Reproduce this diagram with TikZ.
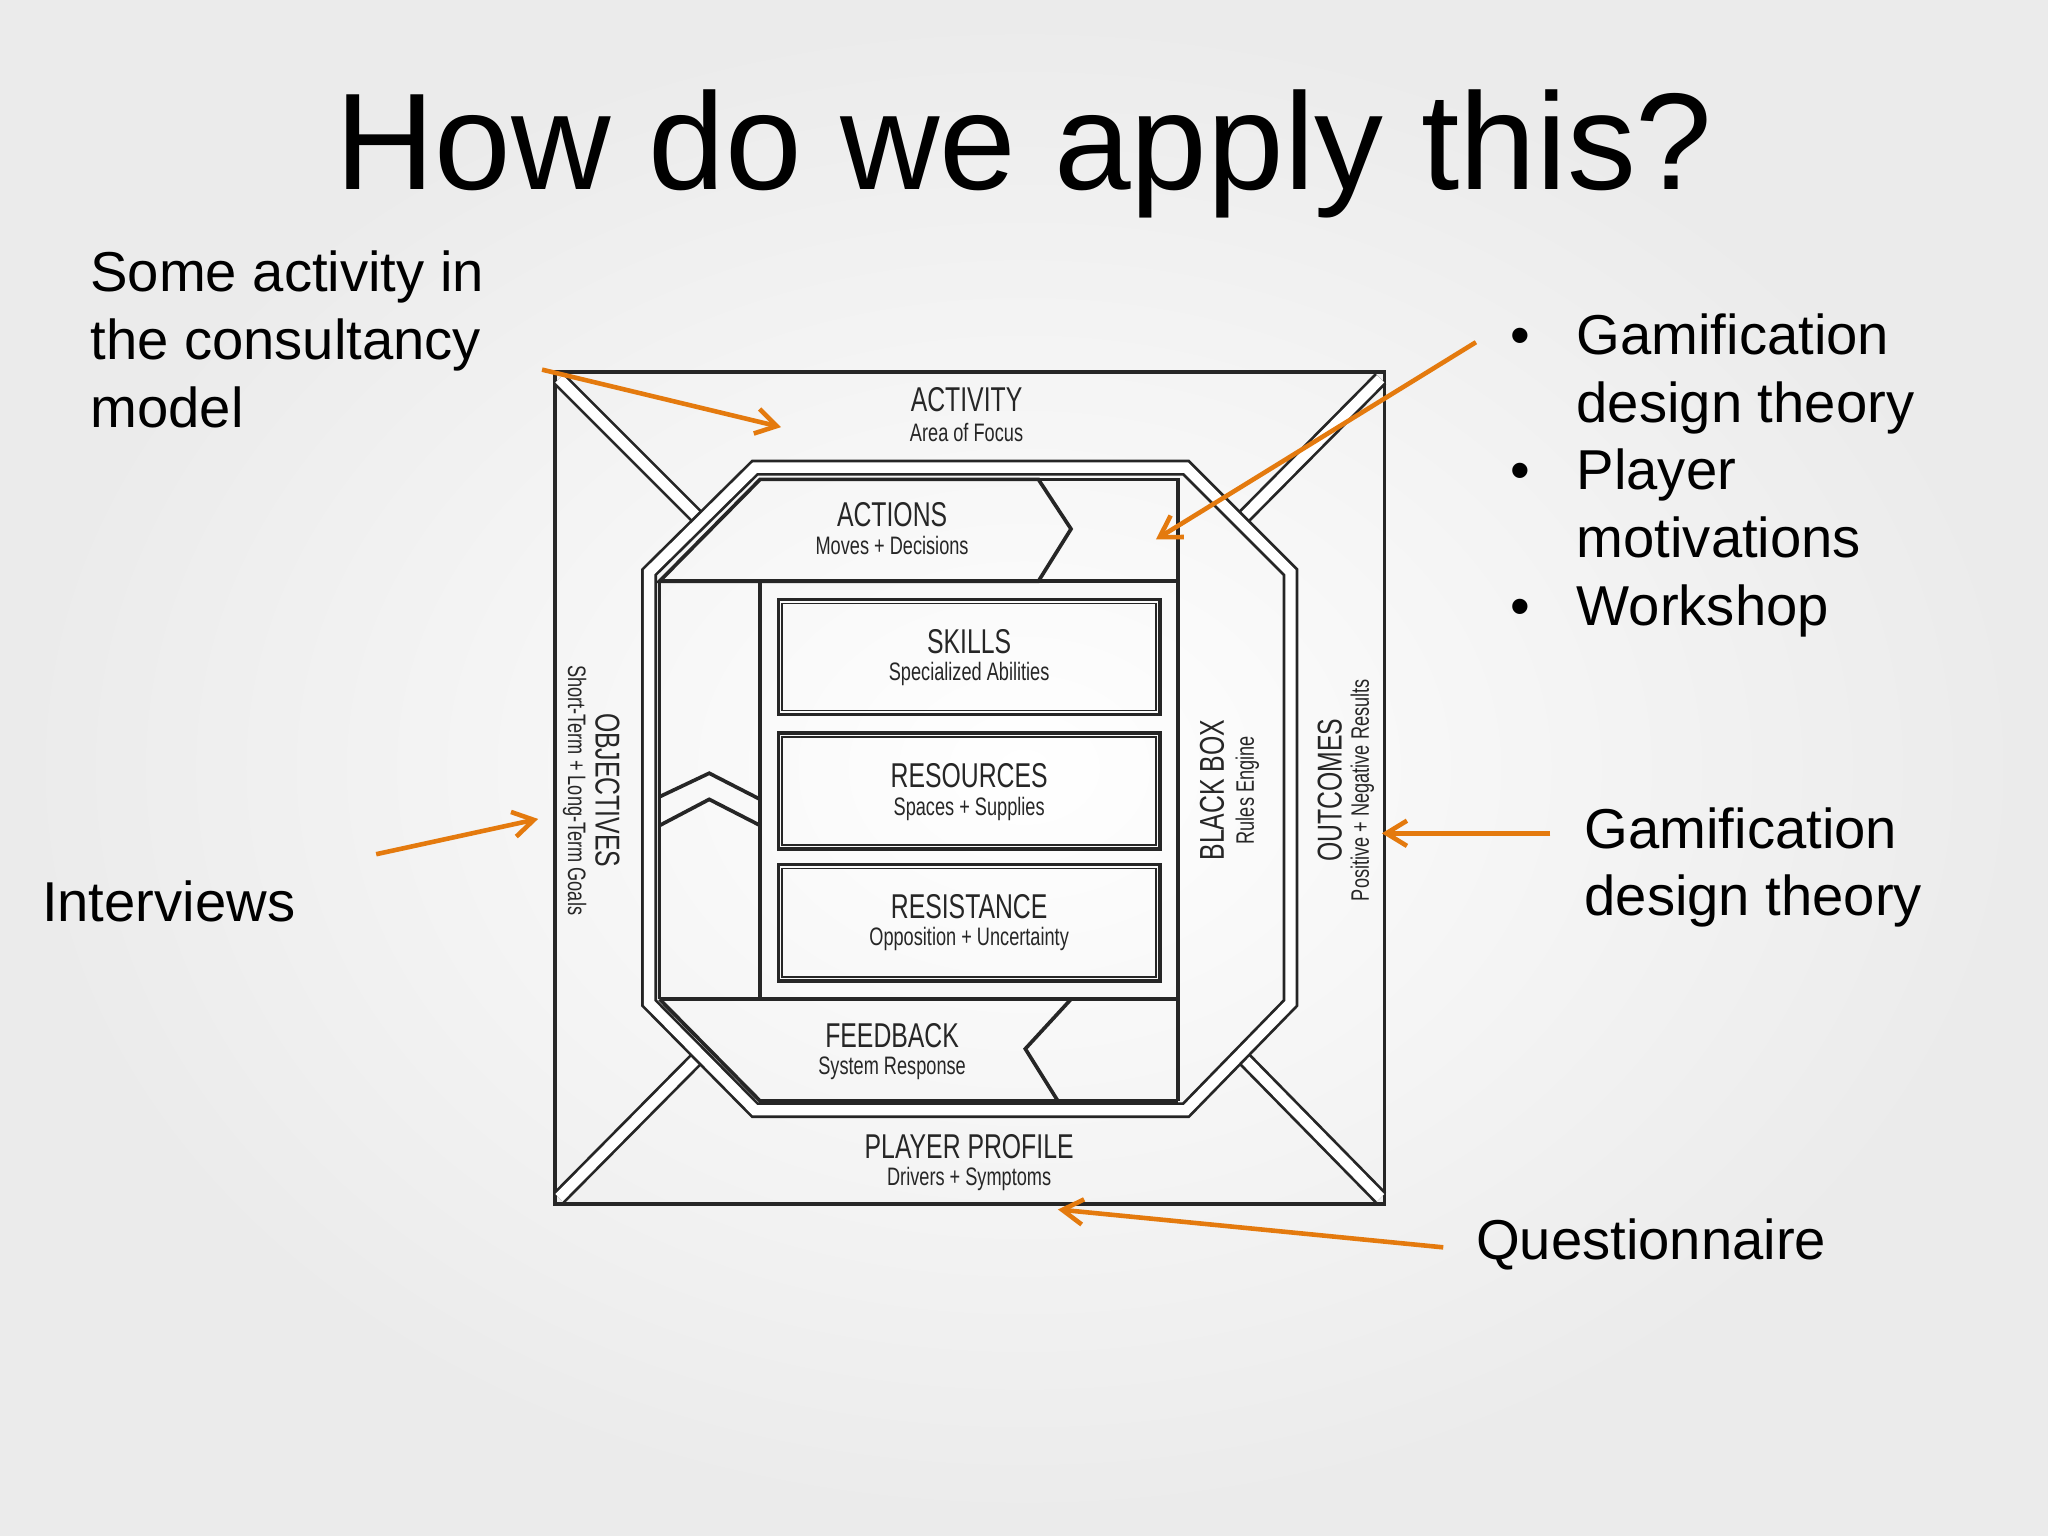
\documentclass[tikz,border=0pt]{standalone}
\usepackage{fontspec}
\setmainfont{Liberation Sans}
\usetikzlibrary{arrows.meta}
\definecolor{org}{HTML}{E47A0E}
\newcommand{\cond}[1]{\scalebox{0.72}[1]{#1}}
\begin{document}
\begin{tikzpicture}[x=0.02cm,y=-0.02cm,
  dbl/.style={draw=black!85,line width=1.2pt,double=white,double distance=4.5pt},
  ln/.style={draw=black!85,line width=1.6pt},
  hd/.style={font=\fontsize{15}{15}\selectfont,text=black!85},
  sb/.style={font=\fontsize{11}{11}\selectfont,text=black!85},
  oa/.style={draw=org,line width=2pt,-{Straight Barb[length=9pt,width=11pt]}},
  side/.style={font=\fontsize{24.5}{29.5}\selectfont,align=left,anchor=north west}]
\useasboundingbox (0,0) rectangle (1568,1176);
\shade[inner color=white,outer color=black!8] (0,0) rectangle (1568,1176);
\node[font=\fontsize{60}{60}\selectfont] (title) at (784,118) {How do we apply this?};
% outer square
\draw[ln] (425,285) rectangle (1060,922);
% diagonals
\draw[dbl] (428,290) -- (536,398);
\draw[dbl] (1057,290) -- (950,398);
\draw[dbl] (428,917) -- (536,808);
\draw[dbl] (1057,917) -- (950,808);
% octagon
\draw[dbl] (578,358) -- (908,358) -- (988,438) -- (988,768) -- (908,850) -- (578,850) -- (497,768) -- (497,438) -- cycle;
% actions
\draw[ln] (505,445) -- (582,367) -- (795,367) -- (820,405) -- (795,445) -- cycle;
\draw[ln] (795,367) -- (902,367) -- (902,445) -- (795,445);
\draw[ln] (902,367) -- (902,843);
\draw[ln] (505,445) -- (902,445);
% left column
\draw[ln] (582,445) -- (582,765);
\draw[ln] (505,610) -- (543,592) -- (582,612);
\draw[ln] (505,632) -- (543,612) -- (582,632);
\draw[ln] (505,445) -- (505,765);
% boxes
\foreach \yt/\yb in {459/547,561/650,662/751}{
  \draw[ln] (596,\yt) rectangle (888,\yb);
  \draw[black!85,line width=0.8pt] (599,\yt+3) rectangle (885,\yb-3);}
\draw[ln] (505,765) -- (902,765);
% feedback
\draw[ln] (505,765) -- (582,843) -- (810,843) -- (785,803) -- (820,765);
\draw[ln] (810,843) -- (902,843);
% labels
\node[hd] (act) at (740,306) {\cond{ACTIVITY}};
\node[sb] (acts) at (740,331) {\cond{Area of Focus}};
\node[hd] (ac) at (683,394) {\cond{ACTIONS}};
\node[sb] (acs) at (683,418) {\cond{Moves + Decisions}};
\node[hd] (sk) at (742,491) {\cond{SKILLS}};
\node[sb] (sks) at (742,516) {\cond{Specialized Abilities}};
\node[hd] (rs) at (742,594) {\cond{RESOURCES}};
\node[sb] (rss) at (742,619) {\cond{Spaces + Supplies}};
\node[hd] (re) at (742,694) {\cond{RESISTANCE}};
\node[sb] (res) at (742,719) {\cond{Opposition + Uncertainty}};
\node[hd] (fb) at (683,793) {\cond{FEEDBACK}};
\node[sb] (fbs) at (683,818) {\cond{System Response}};
\node[hd] (pp) at (742,878) {\cond{PLAYER PROFILE}};
\node[sb] (pps) at (742,903) {\cond{Drivers + Symptoms}};
\node[hd,rotate=-90] (ob) at (465,605) {\cond{OBJECTIVES}};
\node[sb,rotate=-90] (obs) at (440,605) {\cond{Short-Term + Long-Term Goals}};
\node[hd,rotate=90] (bb) at (928,605) {\cond{BLACK BOX}};
\node[sb,rotate=90] (bbs) at (955,605) {\cond{Rules Engine}};
\node[hd,rotate=90] (oc) at (1018,605) {\cond{OUTCOMES}};
\node[sb,rotate=90] (ocs) at (1043,605) {\cond{Positive + Negative Results}};
% side texts
\node[side] (t1) at (63,186) {Some activity in\\the consultancy\\model};
\node[side,anchor=west] (t2) at (26,690) {Interviews};
\node[side] (t3) at (1150,234) {\makebox[29pt][l]{•}Gamification\\\hspace*{29pt}design theory\\\makebox[29pt][l]{•}Player\\\hspace*{29pt}motivations\\\makebox[29pt][l]{•}Workshop};
\node[side] (t4) at (1207,612) {Gamification\\design theory};
\node[side,anchor=west] (t5) at (1124,953) {Questionnaire};
% arrows
\coordinate (a1s) at (415,283); \coordinate (a1e) at (598,327);
\coordinate (a2s) at (1130,262); \coordinate (a2e) at (885,413);
\coordinate (a3s) at (288,654); \coordinate (a3e) at (412,627);
\coordinate (a4s) at (1187,638); \coordinate (a4e) at (1058,638);
\coordinate (a5s) at (1105,955); \coordinate (a5e) at (810,926);
\draw[oa] (a1s) -- (a1e);
\draw[oa] (a2s) -- (a2e);
\draw[oa] (a3s) -- (a3e);
\draw[oa] (a4s) -- (a4e);
\draw[oa] (a5s) -- (a5e);
\end{tikzpicture}
\end{document}
